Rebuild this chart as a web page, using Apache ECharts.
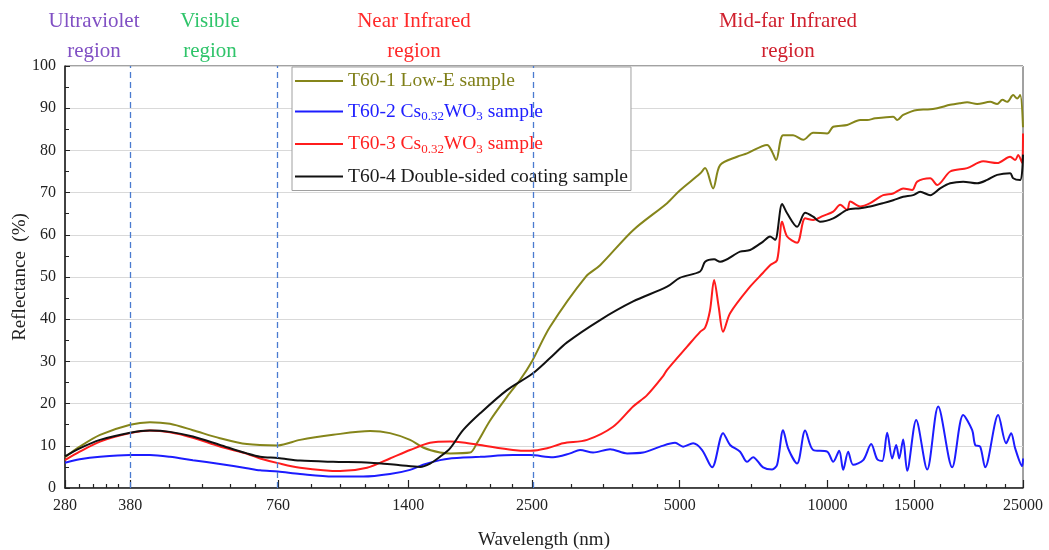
<!DOCTYPE html>
<html><head><meta charset="utf-8">
<script src="https://cdn.jsdelivr.net/npm/echarts@6/dist/echarts.min.js"></script>
<style>html,body{margin:0;padding:0;background:#fff}#c{width:1049px;height:550px}</style>
</head><body><div id="c"></div>
<script>
// ---- data (wavelength nm, reflectance %) ----
const tickWavelengths = [280, 380, 760, 1400, 2500, 5000, 10000, 15000, 25000];
const tickLabels = ['280', '380', '760', '1400', '2500', '5000', '10000', '15000', '25000'];
const minorWavelengths = [300, 320, 340, 360, 456, 532, 608, 684, 888, 1016, 1144, 1272,
  1620, 1840, 2060, 2280, 3000, 3500, 4000, 4500, 6000, 7000, 8000, 9000,
  11000, 12000, 13000, 14000, 17000, 19000, 21000, 23000];
const regionBounds = [380, 760, 2500];
const seriesNames = ['T60-1 Low-E sample', 'T60-2 Cs0.32WO3 sample', 'T60-3 Cs0.32WO3 sample', 'T60-4 Double-sided coating sample'];

const lowE = [[280,7.3],[300,9.8],[330,12.6],[380,15.0],[417,15.6],[458,15.2],[510,13.7],[579,11.8],[657,10.4],[760,10.1],
  [843,11.4],[984,12.6],[1171,13.5],[1285,13.0],[1412,11.4],[1501,9.6],[1625,8.4],[1703,8.2],[1871,8.4],[1933,10.7],
  [2055,16],[2224,21.6],[2364,25.6],[2500,30],[2722,38.2],[3220,50.1],[3442,52.8],[4018,61.1],[4712,67.5],[5000,70.5],
  [5501,74.5],[5631,75.8],[5847,71.0],[6041,76.5],[6542,78.5],[6856,79.3],[7530,81.3],[7709,79.7],[7856,77.7],[8118,83.6],
  [8509,83.6],[8918,82.5],[9346,84.2],[9981,84.0],[10267,85.6],[10963,86],[11652,87.2],[12040,87.2],[12500,87.6],[13602,88.0],
  [13859,87.2],[14254,88.4],[15221,89.6],[16000,89.7],[16719,90],[17769,90.8],[18621,91.2],[19243,91.4],[20165,91],[21434,91.5],
  [22150,91.0],[22700,92.0],[23212,91.5],[23873,93.1],[24327,92.3],[24670,93.1],[25000,85.5]];

const csA = [[280,6.0],[300,6.8],[330,7.4],[380,7.8],[417,7.8],[458,7.4],[510,6.6],[579,5.7],[657,4.7],[699,4.2],
  [760,3.9],[843,3.3],[984,2.7],[1133,2.7],[1285,3.3],[1412,4.3],[1501,5.5],[1625,6.6],[1703,7.0],[1810,7.2],
  [1961,7.4],[2288,7.8],[2478,7.8],[2761,7.3],[2990,8.2],[3133,9.0],[3331,8.4],[3607,9.2],[3907,8.2],[4211,8.4],
  [4560,9.8],[4892,10.7],[5080,9.8],[5323,10.6],[5553,9.0],[5819,4.9],[6127,13.0],[6331,10.2],[6635,8.6],[6856,6.2],
  [7051,7.3],[7391,4.9],[7709,4.4],[7893,5.5],[8118,13.7],[8311,9.4],[8669,5.8],[9002,13.6],[9346,9.0],[9981,8.6],
  [10267,6.2],[10560,8.8],[10760,4.3],[11014,8.6],[11275,5.5],[11818,6.6],[12268,10.4],[12619,6.8],[12919,6.4],[13224,13.1],
  [13538,7.0],[13795,10.2],[13990,7.0],[14254,11.5],[14525,4.1],[15151,16.1],[15953,4.4],[16797,19.3],[17935,4.9],[18885,17.3],
  [19701,13.7],[19979,10.2],[20451,9.8],[20937,4.9],[22254,17.3],[23103,10.6],[23650,13.0],[24100,9.4],[24903,5.2],[25000,7.0]];

const csB = [[280,6.6],[300,8.6],[330,11.0],[380,13.0],[417,13.6],[458,13.2],[510,11.9],[579,9.8],[657,8.1],[699,7.0],
  [760,5.9],[843,4.8],[1017,4.0],[1154,4.8],[1285,7.0],[1412,9.0],[1551,10.7],[1703,11.0],[1810,10.8],[1961,10.2],
  [2288,9.0],[2478,8.8],[2685,9.4],[2893,10.6],[3238,11.4],[3658,14.5],[4018,19.3],[4290,22],[4624,26.5],[4712,28],
  [5176,33.5],[5501,37],[5631,38],[5760,42],[5874,49.3],[6000,43],[6127,37.0],[6331,41.4],[6953,47.7],[7391,51],
  [7637,52.8],[7893,54],[8081,63.1],[8272,59.6],[8669,58.1],[9002,63.9],[9346,63.5],[9796,64.5],[10267,65.5],[10610,67.1],
  [10963,65.9],[11118,67.9],[11652,66.7],[12210,67.5],[12979,69.4],[13602,69.8],[14254,71],[14870,70.6],[15221,72.6],[16179,73.4],
  [16719,71.8],[17769,75],[19243,75.8],[20741,77.4],[22150,77],[23540,78.5],[24100,77.7],[24440,78.9],[24903,77],[25000,84]];

const dual = [[280,7.5],[300,9.4],[330,11.4],[380,13.1],[417,13.6],[458,13.3],[510,12.2],[579,10.2],[657,8.2],[699,7.4],
  [760,7.1],[843,6.5],[984,6.2],[1171,6.0],[1347,5.4],[1480,5.0],[1551,5.8],[1625,7.4],[1703,9.4],[1810,13.7],
  [1961,17.7],[2224,23.2],[2500,27],[2722,30.8],[2948,34.5],[3442,39.8],[4018,44.2],[4712,47.7],[5000,49.8],[5501,51.3],
  [5631,53.6],[5874,54.2],[6041,53.6],[6635,56],[6953,56.4],[7391,58.4],[7637,59.6],[7819,58.8],[8081,67.3],[8272,65.1],
  [8669,61.9],[9002,65.2],[9346,64.3],[9659,63.1],[10267,63.9],[10963,65.9],[11652,66.3],[12210,66.7],[12979,67.5],[13602,68.2],
  [14254,69],[14939,69.4],[15436,70.2],[16179,69.4],[16956,71],[17769,72.2],[18885,72.6],[20165,72.2],[21134,73],[22150,74.2],
  [23540,74.6],[23873,73.4],[24670,73],[25000,79]];

const seriesColors = ['#85851a', '#1c1cff', '#ff1c1c', '#111111'];
const regionTexts = ['Ultraviolet\nregion', 'Visible\nregion', 'Near Infrared\nregion', 'Mid-far Infrared\nregion'];
const regionColors = ['#8150c4', '#2fc46a', '#ff2a2a', '#d0202e'];
const regionCenters = [94, 210, 414, 788];

// ---- chart ----
const L = Math.log10;
const font = "'Liberation Serif','Times New Roman',serif";
const toXY = arr => arr.map(([w, v]) => [L(w), v]);
const chart = echarts.init(document.getElementById('c'));

const FS = 19.5;
const legendRich = {
  o: {color: '#7f7f18', fontSize: FS, fontFamily: font, lineHeight: 24},
  b: {color: '#2020ff', fontSize: FS, fontFamily: font, lineHeight: 24},
  bs: {color: '#2020ff', fontSize: 13, fontFamily: font, lineHeight: 12, verticalAlign: 'bottom'},
  r: {color: '#ff2020', fontSize: FS, fontFamily: font, lineHeight: 24},
  rs: {color: '#ff2020', fontSize: 13, fontFamily: font, lineHeight: 12, verticalAlign: 'bottom'},
  k: {color: '#1a1a1a', fontSize: FS, fontFamily: font, lineHeight: 24}
};
const legendFmt = {};
legendFmt[seriesNames[0]] = '{o|T60-1 Low-E sample}';
legendFmt[seriesNames[1]] = '{b|T60-2 Cs}{bs|0.32}{b|WO}{bs|3}{b| sample}';
legendFmt[seriesNames[2]] = '{r|T60-3 Cs}{rs|0.32}{r|WO}{rs|3}{r| sample}';
legendFmt[seriesNames[3]] = '{k|T60-4 Double-sided coating sample}';

const datasets = [lowE, csA, csB, dual];
const series = datasets.map((d, i) => ({
  name: seriesNames[i], type: 'line', data: toXY(d), showSymbol: false, smooth: 0.3,
  lineStyle: {width: 2, color: seriesColors[i]}, itemStyle: {color: seriesColors[i]}, z: 3 + (i === 1 ? 0 : 1)
}));
series[0].markLine = {
  silent: true, symbol: ['none', 'none'], label: {show: false},
  lineStyle: {color: '#4a7bd0', type: [6, 4], width: 1.3},
  data: regionBounds.map(w => ({xAxis: L(w)}))
};

const option = {
  animation: false,
  backgroundColor: '#fff',
  grid: {left: 65, right: 26, top: 66, bottom: 62, show: true, borderColor: '#444', borderWidth: 1,
    containLabel: false, outerBoundsMode: 'none'},
  xAxis: [{
    type: 'value', min: L(280), max: L(25000),
    name: 'Wavelength (nm)', nameLocation: 'middle', nameGap: 43, nameMoveOverlap: false,
    nameTextStyle: {fontFamily: font, fontSize: 19, color: '#222'},
    axisLine: {lineStyle: {color: '#222', width: 1.5}},
    axisTick: {inside: true, length: 8, customValues: tickWavelengths.map(L), lineStyle: {color: '#222', width: 1.2}},
    axisLabel: {
      customValues: tickWavelengths.map(L), fontFamily: font, fontSize: 16, color: '#222', margin: 10,
      formatter: v => { const i = tickWavelengths.findIndex(w => Math.abs(L(w) - v) < 1e-6); return i >= 0 ? tickLabels[i] : ''; }
    },
    splitLine: {show: false}
  }, {
    type: 'value', min: L(280), max: L(25000), position: 'bottom',
    axisLine: {show: false},
    axisTick: {inside: true, length: 4, customValues: minorWavelengths.map(L), lineStyle: {color: '#222', width: 1.2}},
    axisLabel: {show: false}, splitLine: {show: false}
  }],
  yAxis: {
    type: 'value', min: 0, max: 100, interval: 10,
    name: 'Reflectance  (%)', nameLocation: 'middle', nameGap: 35, nameMoveOverlap: false,
    nameTextStyle: {fontFamily: font, fontSize: 19, color: '#222'},
    axisLine: {show: true, lineStyle: {color: '#222', width: 1.5}},
    axisTick: {show: true, inside: true, length: 5, lineStyle: {color: '#222'}},
    minorTick: {show: true, splitNumber: 2, length: 4, lineStyle: {color: '#222'}},
    axisLabel: {fontFamily: font, fontSize: 16, color: '#222', margin: 9},
    splitLine: {show: true, lineStyle: {color: '#d9d9d9', width: 1}}
  },
  legend: {
    orient: 'vertical', left: 292, top: 67, itemWidth: 48, itemHeight: 2, icon: 'rect', itemGap: 10.5,
    backgroundColor: '#fff', borderColor: '#a0a0a0', borderWidth: 1, padding: [4, 3, 4, 3],
    textStyle: {fontFamily: font, fontSize: FS, rich: legendRich},
    formatter: name => legendFmt[name],
    data: seriesNames
  },
  graphic: regionTexts.map((t, i) => ({
    type: 'text', x: regionCenters[i], y: 6, silent: true,
    style: {text: t, fill: regionColors[i], font: `21px ${font}`, align: 'center', textAlign: 'center',
      verticalAlign: 'top', textVerticalAlign: 'top', lineHeight: 30}
  })),
  series: series
};
chart.setOption(option);
</script></body></html>
